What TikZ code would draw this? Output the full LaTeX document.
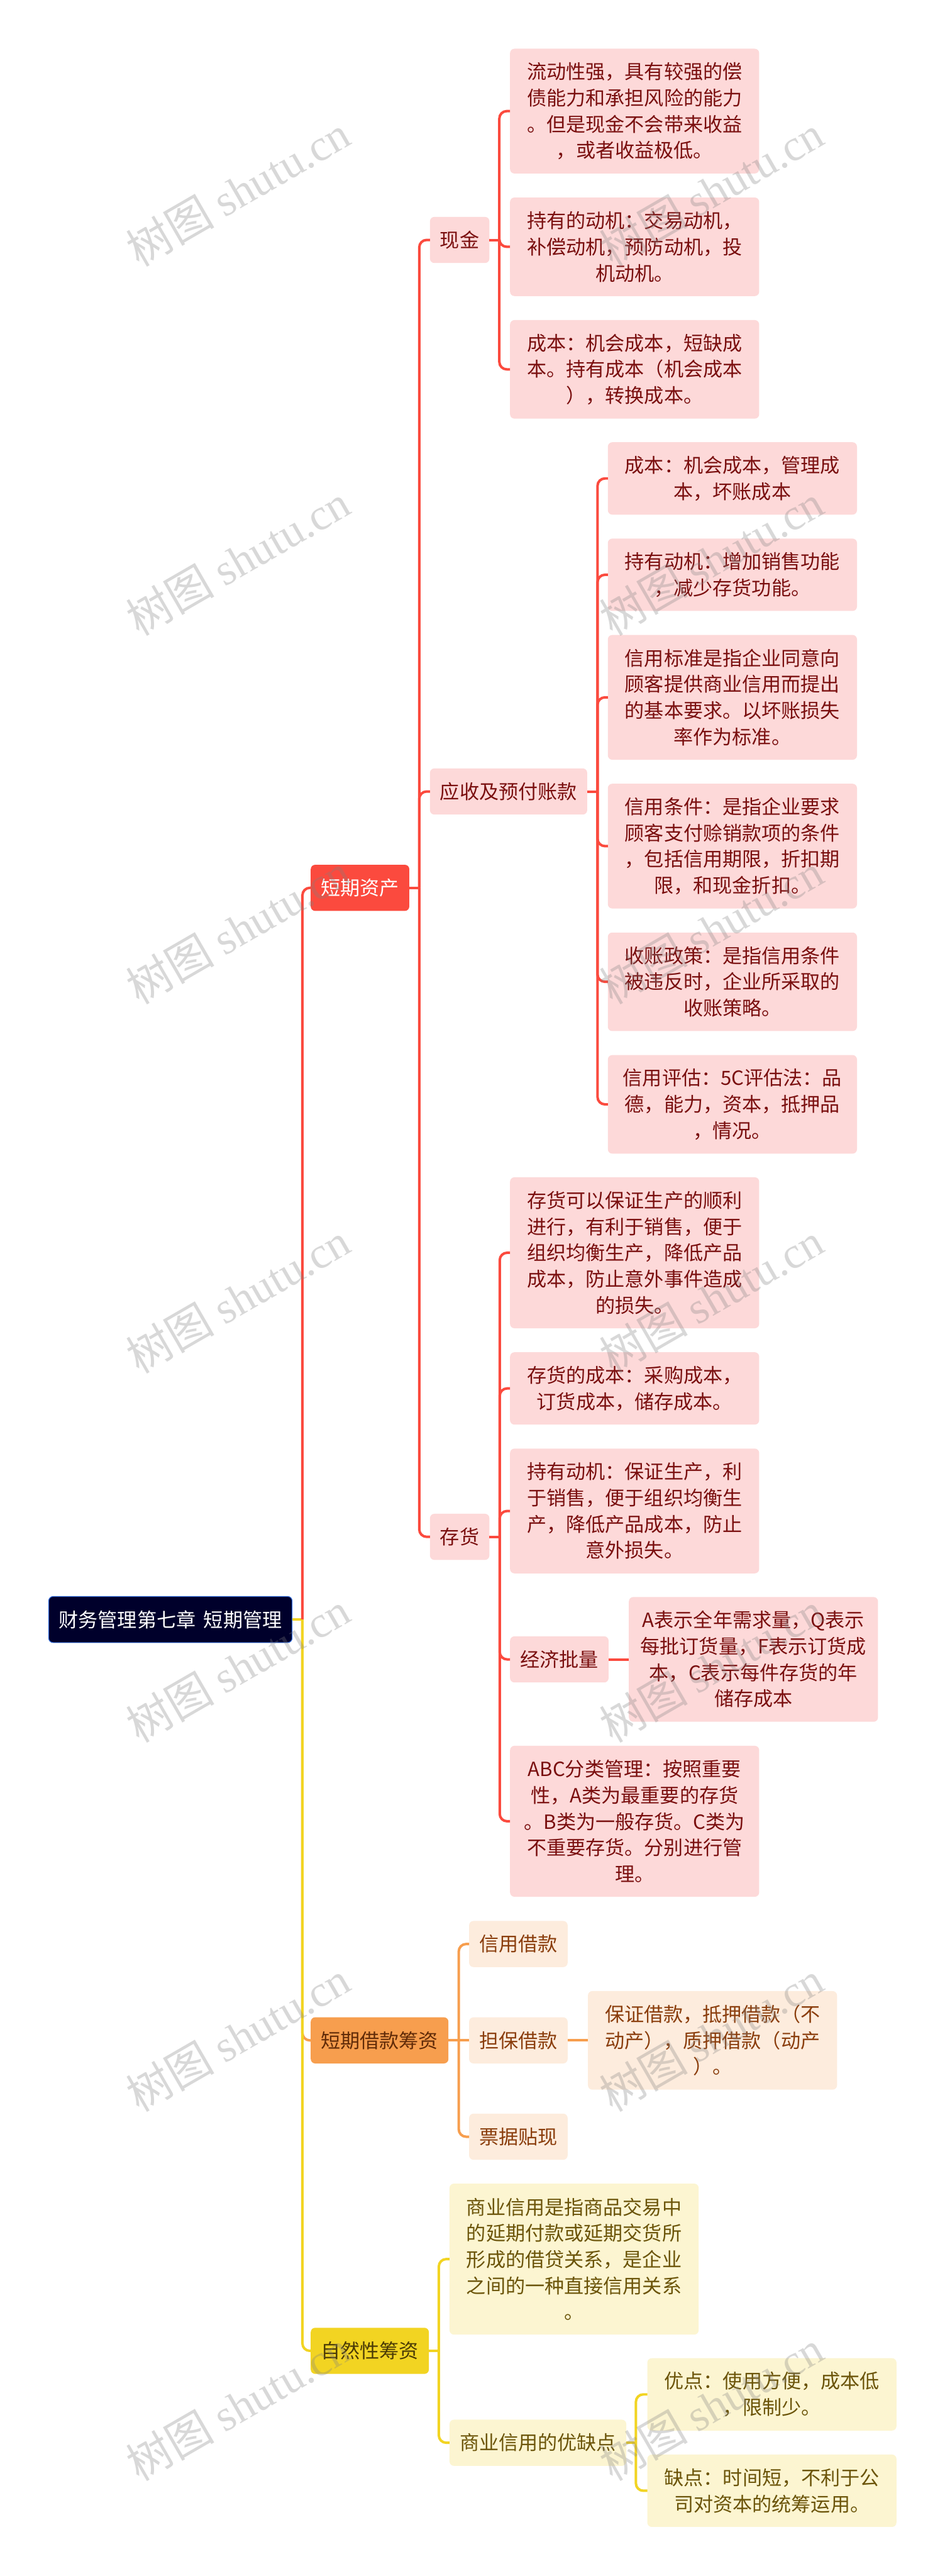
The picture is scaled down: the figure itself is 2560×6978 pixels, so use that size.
\documentclass[tikz,border=0pt]{standalone}
\usepackage{fontspec}
\setmainfont{Noto Sans CJK SC}
\newfontfamily\markfont{Liberation Serif}
\usepackage{tikz}
\usetikzlibrary{positioning}

\definecolor{root_fill}{HTML}{00002B}
\definecolor{root_edge}{HTML}{2F68D8}
\definecolor{red_main}{HTML}{FB4A3E}
\definecolor{red_soft}{HTML}{FDD9D9}
\definecolor{red_text}{HTML}{7A0F0F}
\definecolor{orange_main}{HTML}{F79E4E}
\definecolor{orange_soft}{HTML}{FDECDD}
\definecolor{orange_text}{HTML}{8A3D0C}
\definecolor{yellow_main}{HTML}{F2D422}
\definecolor{yellow_soft}{HTML}{FCF5D1}
\definecolor{yellow_text}{HTML}{6B5409}

\begin{document}
\begin{tikzpicture}[
        x=0.5pt, y=-0.5pt,
        nodes={rectangle, rounded corners=6pt, outer sep=0pt, inner xsep=13.75pt, inner ysep=0pt,
        minimum height=62.5pt, align=center, font={\fontsize{26.5}{35.5}\selectfont}},
        node distance=32.5pt,
        box_lines/.style={minimum height={#1*35.5pt+27pt}, minimum width=337.5pt},
        root_style/.style={fill=root_fill, draw=root_edge, line width=1pt, text=white, minimum width=327pt},
        red_top/.style={fill=red_main, text=white},
        red_box/.style={fill=red_soft, text=red_text},
        orange_top/.style={fill=orange_main, text=orange_text!70!black},
        orange_box/.style={fill=orange_soft, text=orange_text},
        yellow_top/.style={fill=yellow_main, text=yellow_text!70!black},
        yellow_box/.style={fill=yellow_soft, text=yellow_text},
        red_line/.style={draw=red_main, line width=3.4pt, rounded corners=10pt},
        orange_line/.style={draw=orange_main, line width=3.4pt, rounded corners=10pt},
        yellow_line/.style={draw=yellow_main, line width=3.4pt, rounded corners=10pt},
        mark_style/.style={rectangle, rounded corners=0pt, minimum height=0pt, inner sep=0pt, text=gray, opacity=0.3, rotate=30,
        font={\fontsize{60}{60}\selectfont}}]

      \useasboundingbox (0,0) rectangle (2560,6978);
      \fill[white] (0,0) rectangle (2560,6978);

      \node[root_style, anchor=west] (root) at (132,4387) {财务管理第七章 \hspace{0.18em}短期管理};

      \node[red_top, anchor=west] (short_asset) at (842,2405) {短期资产};
      \node[orange_top, anchor=west] (short_loan) at (842,5527) {短期借款筹资};
      \node[yellow_top, anchor=west] (natural) at (842,6368) {自然性筹资};

      % cash
      \node[red_box, anchor=west] (cash) at (1165,650) {现金};
      \node[red_box, box_lines=4, anchor=north west] (cash_a) at (1382,132) {流动性强，具有较强的偿\\债能力和承担风险的能力\\。但是现金不会带来收益\\，或者收益极低。};
      \node[red_box, box_lines=3, below=of cash_a] (cash_b) {持有的动机：交易动机，\\补偿动机，预防动机，投\\机动机。};
      \node[red_box, box_lines=3, below=of cash_b] (cash_c) {成本：机会成本，短缺成\\本。持有成本（机会成本\\），转换成本。};

      % receivable
      \node[red_box, anchor=west] (recv) at (1165,2144) {应收及预付账款};
      \node[red_box, box_lines=2, anchor=north west] (recv_a) at (1647,1198) {成本：机会成本，管理成\\本，坏账成本};
      \node[red_box, box_lines=2, below=of recv_a] (recv_b) {持有动机：增加销售功能\\，减少存货功能。};
      \node[red_box, box_lines=4, below=of recv_b] (recv_c) {信用标准是指企业同意向\\顾客提供商业信用而提出\\的基本要求。以坏账损失\\率作为标准。};
      \node[red_box, box_lines=4, below=of recv_c] (recv_d) {信用条件：是指企业要求\\顾客支付赊销款项的条件\\，包括信用期限，折扣期\\限，和现金折扣。};
      \node[red_box, box_lines=3, below=of recv_d] (recv_e) {收账政策：是指信用条件\\被违反时，企业所采取的\\收账策略。};
      \node[red_box, box_lines=3, below=of recv_e] (recv_f) {信用评估：5C评估法：品\\德，能力，资本，抵押品\\，情况。};

      % stock
      \node[red_box, anchor=west] (stock) at (1165,4163) {存货};
      \node[red_box, box_lines=5, anchor=north west] (stock_a) at (1382,3189) {存货可以保证生产的顺利\\进行，有利于销售，便于\\组织均衡生产，降低产品\\成本，防止意外事件造成\\的损失。};
      \node[red_box, box_lines=2, below=of stock_a] (stock_b) {存货的成本：采购成本，\\订货成本，储存成本。};
      \node[red_box, box_lines=4, below=of stock_b] (stock_c) {持有动机：保证生产，利\\于销售，便于组织均衡生\\产，降低产品成本，防止\\意外损失。};
      \node[red_box, anchor=west] (batch) at (1382,4495) {经济批量};
      \node[red_box, box_lines=4, right=27.5pt of batch] (batch_a) {A表示全年需求量，Q表示\\每批订货量，F表示订货成\\本，C表示每件存货的年\\储存成本};
      \node[red_box, box_lines=5, anchor=north west] (stock_e) at (1382,4729) {ABC分类管理：按照重要\\性，A类为最重要的存货\\。B类为一般存货。C类为\\不重要存货。分别进行管\\理。};

      % loan
      \node[orange_box, anchor=west] (loan_b) at (1271,5527) {担保借款};
      \node[orange_box, above=68pt of loan_b] (loan_a) {信用借款};
      \node[orange_box, below=68pt of loan_b] (loan_c) {票据贴现};
      \node[orange_box, box_lines=3, right=27.5pt of loan_b] (loan_d) {保证借款，抵押借款（不\\动产），质押借款（动产\\）。};

      % credit
      \node[yellow_box, box_lines=5, anchor=north west] (credit_a) at (1218,5915) {商业信用是指商品交易中\\的延期付款或延期交货所\\形成的借贷关系，是企业\\之间的一种直接信用关系\\。};
      \node[yellow_box, anchor=west] (credit_b) at (1218,6617) {商业信用的优缺点};
      \node[yellow_box, box_lines=2, anchor=north west] (credit_c) at (1754,6388) {优点：使用方便，成本低\\，限制少。};
      \node[yellow_box, box_lines=2, below=of credit_c] (credit_d) {缺点：时间短，不利于公\\司对资本的统筹运用。};

      % connectors
      \draw[yellow_line] (root.east) -- ++(28,0) coordinate (root_fork);
      \draw[red_line] (root_fork) |- (short_asset.west);
      \draw[orange_line] (root_fork) |- (short_loan.west);
      \draw[yellow_line] (root_fork) |- (natural.west);

      \draw[red_line] (short_asset.east) -- ++(27,0) coordinate (asset_fork);
      \draw[red_line] (asset_fork) |- (cash.west);
      \draw[red_line] (asset_fork) |- (recv.west);
      \draw[red_line] (asset_fork) |- (stock.west);

      \draw[red_line] (cash.east) -- ++(27,0) coordinate (cash_fork);
      \draw[red_line] (cash_fork) |- (cash_a.west);
      \draw[red_line] (cash_fork) |- (cash_b.west);
      \draw[red_line] (cash_fork) |- (cash_c.west);

      \draw[red_line] (recv.east) -- ++(28,0) coordinate (recv_fork);
      \draw[red_line] (recv_fork) |- (recv_a.west);
      \draw[red_line] (recv_fork) |- (recv_b.west);
      \draw[red_line] (recv_fork) |- (recv_c.west);
      \draw[red_line] (recv_fork) |- (recv_d.west);
      \draw[red_line] (recv_fork) |- (recv_e.west);
      \draw[red_line] (recv_fork) |- (recv_f.west);

      \draw[red_line] (stock.east) -- ++(28,0) coordinate (stock_fork);
      \draw[red_line] (stock_fork) |- (stock_a.west);
      \draw[red_line] (stock_fork) |- (stock_b.west);
      \draw[red_line] (stock_fork) |- (stock_c.west);
      \draw[red_line] (stock_fork) |- (batch.west);
      \draw[red_line] (stock_fork) |- (stock_e.west);
      \draw[red_line] (batch) -- (batch_a);

      \draw[orange_line] (short_loan.east) -- ++(28,0) coordinate (loan_fork);
      \draw[orange_line] (loan_fork) |- (loan_a.west);
      \draw[orange_line] (loan_fork) -- (loan_b.west);
      \draw[orange_line] (loan_fork) |- (loan_c.west);
      \draw[orange_line] (loan_b) -- (loan_d);

      \draw[yellow_line] (natural.east) -- ++(27,0) coordinate (natural_fork);
      \draw[yellow_line] (natural_fork) |- (credit_a.west);
      \draw[yellow_line] (natural_fork) |- (credit_b.west);
      \draw[yellow_line] (credit_b.east) -- ++(26,0) coordinate (credit_fork);
      \draw[yellow_line] (credit_fork) |- (credit_c.west);
      \draw[yellow_line] (credit_fork) |- (credit_d.west);

      % watermark
      \node[mark_style] (mark_a) at (645,517) {树图 {\markfont shutu.cn}};
      \node[mark_style] (mark_b) at (1927,517) {树图 {\markfont shutu.cn}};
      \node[mark_style] (mark_c) at (645,1517) {树图 {\markfont shutu.cn}};
      \node[mark_style] (mark_d) at (1927,1517) {树图 {\markfont shutu.cn}};
      \node[mark_style] (mark_e) at (645,2517) {树图 {\markfont shutu.cn}};
      \node[mark_style] (mark_f) at (1927,2517) {树图 {\markfont shutu.cn}};
      \node[mark_style] (mark_g) at (645,3517) {树图 {\markfont shutu.cn}};
      \node[mark_style] (mark_h) at (1927,3517) {树图 {\markfont shutu.cn}};
      \node[mark_style] (mark_i) at (645,4517) {树图 {\markfont shutu.cn}};
      \node[mark_style] (mark_j) at (1927,4517) {树图 {\markfont shutu.cn}};
      \node[mark_style] (mark_k) at (645,5517) {树图 {\markfont shutu.cn}};
      \node[mark_style] (mark_l) at (1927,5517) {树图 {\markfont shutu.cn}};
      \node[mark_style] (mark_m) at (645,6517) {树图 {\markfont shutu.cn}};
      \node[mark_style] (mark_n) at (1927,6517) {树图 {\markfont shutu.cn}};
    \end{tikzpicture}
\end{document}
